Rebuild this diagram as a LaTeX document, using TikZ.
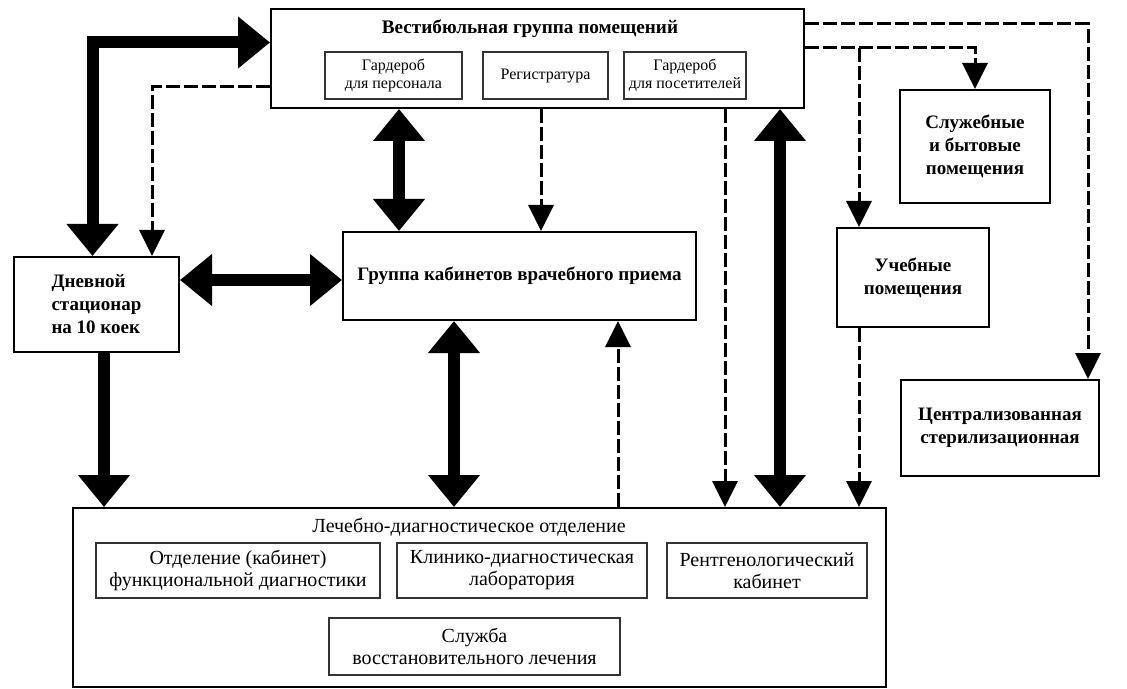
\documentclass[tikz,border=0pt]{standalone}
\usepackage{fontspec}
\setmainfont{Liberation Serif}
\usetikzlibrary{arrows.meta}

\tikzset{
  room/.style={draw, line width=1pt, inner sep=2pt, align=center,
    font=\bfseries\fontsize{9.5}{11.5}\selectfont},
  subroom/.style={draw=black!80, line width=0.6pt, inner sep=1pt, align=center,
    font=\fontsize{10}{11}\selectfont},
  smallroom/.style={subroom, font=\fontsize{8}{9}\selectfont},
  thickline/.style={line width=6pt, >={Triangle[width=25pt,length=16pt]}},
  dashline/.style={line width=1.5pt, dash pattern=on 7pt off 2pt,
    >={Triangle[width=12.5pt,length=13pt]}}
}

\begin{document}
\begin{tikzpicture}[x=0.5pt,y=-0.5pt]
  \useasboundingbox (0,0) rectangle (1127,689);

  \begin{scope}[every node/.style={room}]
    \node (vest) [minimum width=266.5pt, minimum height=49.5pt] at (537.5,58.5) {};
    \node (dnev) [minimum width=82.5pt, minimum height=47.5pt, align=left] at (96.5,304.5) {Дневной\\стационар\\на 10 коек};
    \node (grp) [minimum width=176.5pt, minimum height=44pt] at (519.5,276) {Группа кабинетов врачебного приема};
    \node (sluz) [minimum width=75pt, minimum height=56.5pt] at (975,146.5) {Служебные\\и бытовые\\помещения};
    \node (ucheb) [minimum width=76pt, minimum height=49.5pt] at (913,277.5) {Учебные\\помещения};
    \node (centr) [minimum width=99pt, minimum height=48pt] at (1000,428) {Централизованная\\стерилизационная};
    \node (lech) [minimum width=406.5pt, minimum height=89.5pt] at (479.5,597.5) {};
  \end{scope}

  % titles of the two big groups
  \node (vesttitle) [font=\bfseries\fontsize{9.6}{12}\selectfont] at (530,29) {Вестибюльная группа помещений};
  \node (lechtitle) [font=\fontsize{10}{12}\selectfont] at (469,527) {Лечебно-диагностическое отделение};

  \begin{scope}[every node/.style={smallroom, minimum height=23.5pt}]
    \node (garpers) [minimum width=68.5pt] at (393.5,75.5) {Гардероб\\для персонала};
    \node (reg) [minimum width=62.5pt] at (545.5,75.5) {Регистратура};
    \node (garvis) [minimum width=61pt] at (685,75.5) {Гардероб\\для посетителей};
  \end{scope}

  \begin{scope}[every node/.style={subroom, minimum height=27.5pt}]
    \node (funk) [minimum width=142pt] at (238,570.5) {Отделение (кабинет)\\функциональной диагностики};
    \node (klin) [minimum width=125pt] at (522,570.5) {Клинико-диагностическая\\лаборатория};
    \node (rent) [minimum width=100pt] at (767,570.5) {Рентгенологический\\кабинет};
    \node (vosst) [minimum width=145.5pt, minimum height=28.5pt] at (474.5,646.5) {Служба\\восстановительного лечения};
  \end{scope}

  % main flows
  \draw[thickline,<->] ([xshift=-2pt]dnev.north) |- ([yshift=8pt]vest.west);
  \draw[thickline,<->] (399,0 |- vest.south) -- (399,0 |- grp.north);
  \draw[thickline,<->] (dnev.east |- 0,280) -- (grp.west |- 0,280);
  \draw[thickline,<->] (454,0 |- grp.south) -- (454,0 |- lech.north);
  \draw[thickline,->] (104,0 |- dnev.south) -- (104,0 |- lech.north);
  \draw[thickline,<->] (780,0 |- vest.south) -- (780,0 |- lech.north);

  % secondary flows
  \coordinate (fork) at (859,48);
  \draw[dashline,->] (vest.west |- 0,87) -| (152,0 |- dnev.north);
  \draw[dashline,->] (541,0 |- vest.south) -- (541,0 |- grp.north);
  \draw[dashline,->] (vest.east |- 0,24) -| (1088,0 |- centr.north);
  \draw[dashline,->] (vest.east |- fork) -| (sluz.north);
  \draw[dashline,->] (fork) -- (fork |- ucheb.north);
  \draw[dashline,->] (fork |- ucheb.south) -- (fork |- lech.north);
  \draw[dashline,->] (725,0 |- vest.south) -- (725,0 |- lech.north);
  \draw[dashline,->] (618,0 |- lech.north) -- (618,0 |- grp.south);
\end{tikzpicture}
\end{document}
